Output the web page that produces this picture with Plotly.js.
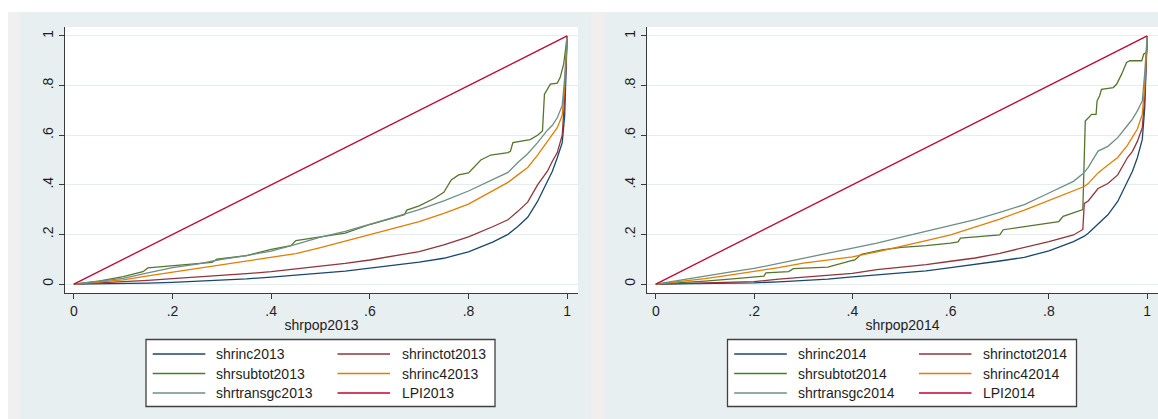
<!DOCTYPE html>
<html>
<head>
<meta charset="utf-8">
<script src="https://cdn.plot.ly/plotly-3.0.1.min.js"></script>
<style>
  html, body { margin: 0; padding: 0; background: #ffffff; }
  #chart { width: 1158px; height: 419px; }
</style>
</head>
<body>
<div id="chart"></div>
<script>
// ---- 2013: cumulative population share and cumulative shares ----
const shrpop2013 = [0, .05, .1, .15, .2, .25, .3, .35, .4, .45, .5, .55, .6, .65, .7, .75, .8, .85, .88, .9, .92, .94, .96, .97, .98, .99, .995, 1];
const shrinc2013 = [0, .0005, .002, .004, .007, .011, .015, .021, .028, .035, .043, .052, .064, .076, .088, .104, .13, .17, .2, .232, .269, .333, .414, .455, .509, .57, .68, 1];
const shrinctot2013 = [0, .004, .008, .015, .022, .028, .034, .042, .05, .06, .07, .083, .097, .113, .131, .158, .19, .232, .259, .293, .33, .40, .455, .495, .53, .6, .75, 1];
const shrinc42013 = [0, .008, .017, .033, .048, .062, .076, .09, .105, .123, .147, .172, .198, .225, .252, .285, .322, .375, .41, .44, .47, .52, .575, .6, .63, .68, .8, 1];
const shrtransgc2013 = [0, .011, .023, .045, .066, .08, .1, .115, .133, .16, .189, .212, .24, .27, .3, .335, .375, .42, .45, .49, .525, .57, .62, .64, .67, .72, .83, 1];
const LPI2013 = [0, .05, .1, .15, .2, .25, .3, .35, .4, .45, .5, .55, .6, .65, .7, .75, .8, .85, .88, .9, .92, .94, .96, .97, .98, .99, .995, 1];
// subsidy share moves in steps, so it has its own population points
const shrsubtot2013_pop = [0, .05, .1, .14, .15, .2, .25, .28, .29, .35, .4, .44, .45, .5, .55, .6, .65, .67, .675, .7, .73, .75, .765, .78, .8, .81, .825, .845, .88, .885, .89, .925, .94, .95, .954, .966, .98, .986, .993, .997, 1];
const shrsubtot2013 = [0, .012, .03, .05, .065, .075, .082, .087, .1, .115, .14, .155, .175, .19, .205, .24, .27, .28, .298, .315, .345, .37, .42, .44, .448, .47, .5, .52, .53, .535, .57, .582, .6, .617, .765, .806, .81, .833, .887, .95, 1];

// ---- 2014 ----
const shrpop2014 = [0, .05, .1, .15, .2, .25, .3, .35, .4, .45, .5, .55, .6, .65, .7, .75, .8, .85, .869, .872, .88, .9, .92, .94, .96, .97, .98, .99, .995, 1];
const shrinc2014 = [0, .0005, .001, .003, .005, .009, .013, .02, .029, .036, .043, .053, .066, .078, .093, .108, .134, .171, .19, .193, .205, .242, .279, .333, .414, .455, .509, .583, .71, 1];
const shrinctot2014 = [0, .002, .004, .007, .01, .02, .027, .035, .043, .058, .068, .078, .092, .105, .124, .147, .171, .198, .22, .325, .335, .385, .405, .44, .51, .535, .575, .63, .75, 1];
const shrinc42014 = [0, .01, .022, .036, .05, .066, .084, .097, .11, .13, .151, .175, .198, .23, .262, .298, .338, .378, .39, .393, .405, .448, .48, .51, .56, .59, .625, .684, .8, 1];
const shrtransgc2014 = [0, .015, .032, .048, .063, .083, .104, .122, .142, .165, .189, .212, .237, .26, .289, .32, .367, .414, .445, .45, .47, .536, .555, .59, .64, .665, .698, .738, .85, 1];
const LPI2014 = [0, .05, .1, .15, .2, .25, .3, .35, .4, .45, .5, .55, .6, .65, .7, .75, .8, .85, .869, .872, .88, .9, .92, .94, .96, .97, .98, .99, .995, 1];
const shrsubtot2014_pop = [0, .05, .1, .15, .2, .22, .224, .27, .28, .35, .4, .405, .418, .46, .5, .55, .6, .615, .62, .7, .707, .78, .82, .829, .856, .869, .874, .88, .887, .896, .898, .903, .907, .931, .938, .948, .958, .965, .989, .993, .999, 1];
const shrsubtot2014 = [0, .005, .012, .02, .03, .032, .045, .05, .062, .068, .095, .097, .12, .138, .148, .155, .165, .17, .185, .198, .219, .239, .252, .273, .293, .3, .657, .671, .684, .684, .738, .758, .785, .792, .806, .846, .893, .9, .9, .927, .934, 1];

// ---- axis ticks and series styling ----
const tickVals = [0, .2, .4, .6, .8, 1];
const tickText = ['0', '.2', '.4', '.6', '.8', '1'];
const seriesColors = ['#1a476f', '#90353b', '#55752f', '#e37e00', '#6e8e84', '#c10534'];

const W = 1158, H = 419;
const M = { l: 65, r: 0, t: 27, b: 126 };
const plotW = W - M.l - M.r, plotH = H - M.t - M.b;
const px = v => (v - M.l) / plotW;          // pixel x -> paper x
const py = v => (H - M.b - v) / plotH;      // pixel y -> paper y

function panel(year, pop, subPop, series, xa, ya) {
  // series: [shrinc, shrinctot, shrsubtot, shrinc4, shrtransgc, LPI]
  const names = ['shrinc' + year, 'shrinctot' + year, 'shrsubtot' + year,
                 'shrinc4' + year, 'shrtransgc' + year, 'LPI' + year];
  return series.map((ys, i) => ({
    type: 'scatter', mode: 'lines', name: names[i],
    x: i === 2 ? subPop : pop, y: ys,
    xaxis: xa, yaxis: ya, showlegend: false, hoverinfo: 'skip',
    line: { color: seriesColors[i], width: 1.3 }
  }));
}

const traces = [
  ...panel('2013', shrpop2013, shrsubtot2013_pop,
    [shrinc2013, shrinctot2013, shrsubtot2013, shrinc42013, shrtransgc2013, LPI2013], 'x', 'y'),
  ...panel('2014', shrpop2014, shrsubtot2014_pop,
    [shrinc2014, shrinctot2014, shrsubtot2014, shrinc42014, shrtransgc2014, LPI2014], 'x2', 'y2')
];

const fontFam = '"Liberation Sans", Arial, sans-serif';
const textCol = '#1e1e1e';

function xAxis(title, domain, anchor) {
  return {
    domain: domain, anchor: anchor, range: [-0.018, 1.022],
    tickvals: tickVals, ticktext: tickText,
    ticks: 'outside', ticklen: 5, tickwidth: 1, tickcolor: '#3a3a3a',
    showline: true, linecolor: '#3a3a3a', linewidth: 1.2,
    showgrid: false, zeroline: false, fixedrange: true,
    tickfont: { size: 14, color: textCol },
    title: { text: title, standoff: 2, font: { size: 14, color: textCol } }
  };
}
function yAxis(anchor) {
  return {
    domain: [0, 1], anchor: anchor, range: [-0.036, 1.036],
    tickvals: tickVals, ticktext: tickText, tickangle: -90,
    ticks: 'outside', ticklen: 5, tickwidth: 1, tickcolor: '#3a3a3a',
    showline: true, linecolor: '#3a3a3a', linewidth: 1.2,
    showgrid: true, gridcolor: '#e4edef', gridwidth: 1,
    zeroline: false, fixedrange: true,
    tickfont: { size: 14, color: textCol }
  };
}

// graph-region backdrop strips
const shapes = [
  { type: 'rect', xref: 'paper', yref: 'paper', layer: 'below', line: { width: 0 },
    x0: px(0), x1: px(W), y0: py(12), y1: py(0), fillcolor: '#ffffff' },
  { type: 'rect', xref: 'paper', yref: 'paper', layer: 'below', line: { width: 0 },
    x0: px(0), x1: px(8), y0: py(H), y1: py(12), fillcolor: '#ffffff' },
  { type: 'rect', xref: 'paper', yref: 'paper', layer: 'below', line: { width: 0 },
    x0: px(8), x1: px(20), y0: py(H), y1: py(12), fillcolor: '#f0f0f0' },
  { type: 'rect', xref: 'paper', yref: 'paper', layer: 'below', line: { width: 0 },
    x0: px(591), x1: px(604), y0: py(H), y1: py(12), fillcolor: '#f2eeee' }
];
const annotations = [];

// two-column legend boxes under each panel
function addLegend(year, centerPx) {
  const names = ['shrinc' + year, 'shrinctot' + year, 'shrsubtot' + year,
                 'shrinc4' + year, 'shrtransgc' + year, 'LPI' + year];
  const left = centerPx - 174.5, right = centerPx + 174.5;
  shapes.push({ type: 'rect', xref: 'paper', yref: 'paper',
    x0: px(left), x1: px(right), y0: py(406.5), y1: py(339.5),
    fillcolor: '#ffffff', line: { color: '#404040', width: 1.3 } });
  const rows = [354, 373.5, 393];
  names.forEach((nm, i) => {
    const r = Math.floor(i / 2), c = i % 2;
    const lx0 = left + (c ? 191.5 : 6.7), lx1 = left + (c ? 244 : 59.3);
    const tx = left + (c ? 253.5 : 68);
    shapes.push({ type: 'line', xref: 'paper', yref: 'paper',
      x0: px(lx0), x1: px(lx1), y0: py(rows[r]), y1: py(rows[r]),
      line: { color: seriesColors[i], width: 1.4 } });
    annotations.push({ xref: 'paper', yref: 'paper', x: px(tx), y: py(rows[r]),
      xanchor: 'left', yanchor: 'middle', showarrow: false, text: nm,
      font: { family: fontFam, size: 14, color: textCol } });
  });
}
addLegend('2013', 320.5);
addLegend('2014', 902);

const leftEnd = px(578), rightStart = px(647);

const layout = {
  width: W, height: H,
  margin: M,
  paper_bgcolor: '#e8eff1',
  plot_bgcolor: '#ffffff',
  font: { family: fontFam, size: 14, color: textCol },
  showlegend: false,
  hovermode: false,
  xaxis: xAxis('shrpop2013', [0, leftEnd], 'y'),
  yaxis: yAxis('x'),
  xaxis2: xAxis('shrpop2014', [rightStart, 1], 'y2'),
  yaxis2: yAxis('x2'),
  shapes: shapes,
  annotations: annotations
};

Plotly.newPlot('chart', traces, layout, { displayModeBar: false, staticPlot: true });
</script>
</body>
</html>
